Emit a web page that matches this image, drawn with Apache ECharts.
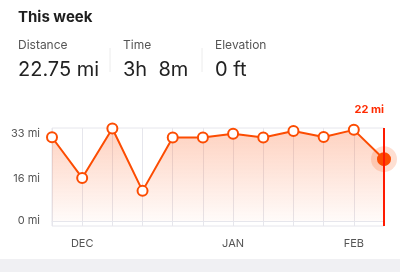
<!DOCTYPE html>
<html><head><meta charset="utf-8">
<script src="https://cdn.jsdelivr.net/npm/echarts@6/dist/echarts.min.js"></script>
<style>html,body{margin:0;padding:0;background:#fff}#c{width:400px;height:272px}</style>
</head><body><div id="c"></div>
<script>
const categories = ['w1','w2','w3','w4','w5','w6','w7','w8','w9','w10','w11','w12'];
const monthLabels = ['', 'DEC', '', '', '', '', 'JAN', '', '', '', 'FEB', ''];
const weeklyMiles = [31.7, 16.3, 35.0, 11.4, 31.6, 31.6, 33.0, 31.6, 34.1, 31.8, 34.5, 23.4];
const yTickValues = [0, 16, 33];
const yTickLabels = ['0 mi', '16 mi', '33 mi'];
const currentLabel = '22 mi';
const statTitles = ['Distance', 'Time', 'Elevation'];
const statValues = ['22.75 mi', '3h  8m', '0 ft'];
const heading = 'This week';

const ORANGE = '#fc4c02';
const font = 'Inter, "Noto Sans", sans-serif';
const chart = echarts.init(document.getElementById('c'), null, {renderer: 'canvas'});
const lastIdx = weeklyMiles.length - 1;

const statX = [18, 123, 215];
const graphics = [
  {type:'text', left:18, top:10, style:{text:heading, font:'bold 15px ' + font, fill:'#1e1e1e'}},
  {type:'rect', left:0, top:259, shape:{width:400, height:13}, style:{fill:'#f0f0f3'}},
  {type:'line', shape:{x1:110, y1:48, x2:110, y2:72}, style:{stroke:'#ececec', lineWidth:1}},
  {type:'line', shape:{x1:202, y1:48, x2:202, y2:72}, style:{stroke:'#ececec', lineWidth:1}},
  {type:'text', right:16, top:104, style:{text:currentLabel, font:'bold 11px ' + font, fill:'#ff2a00', align:'right'}}
];
statTitles.forEach((t,i)=>{
  graphics.push({type:'text', left:statX[i], top:39, style:{text:t, font:'12px ' + font, fill:'#555'}});
  graphics.push({type:'text', left:statX[i], top:60, style:{text:statValues[i], font:'20px ' + font, fill:'#222'}});
});

chart.setOption({
  animation:false,
  grid:{left:52, right:16, top:128, bottom:46, show:true, borderColor:'#e6e6ec', borderWidth:1},
  xAxis:{
    type:'category', data:categories, boundaryGap:false,
    axisLine:{show:true, lineStyle:{color:'#e6e6ec'}}, axisTick:{show:false},
    axisLabel:{interval:0, margin:12, color:'#555', fontSize:11, fontFamily:font,
      formatter:(v,i)=>monthLabels[i]},
    splitLine:{show:true, lineStyle:{color:'#e6e6ec', width:1}}
  },
  yAxis:{
    type:'value', min:-1.9, max:35.2,
    axisLine:{show:false}, axisTick:{show:false}, splitLine:{show:false},
    axisLabel:{customValues:yTickValues, color:'#555', fontSize:11, fontFamily:font, margin:12,
      formatter:(v)=>yTickLabels[yTickValues.indexOf(v)]}
  },
  series:[
    {
      type:'line', data:weeklyMiles.map((v,i)=> i===lastIdx ? {value:v, symbolSize:12, itemStyle:{color:ORANGE, borderColor:ORANGE}} : v),
      symbol:'circle', symbolSize:10, showAllSymbol:true,
      lineStyle:{color:ORANGE, width:2},
      itemStyle:{color:'#fff', borderColor:ORANGE, borderWidth:2},
      areaStyle:{color:new echarts.graphic.LinearGradient(0,0,0,1,[
        {offset:0, color:'rgba(252,100,40,0.42)'},
        {offset:1, color:'rgba(252,100,40,0.04)'}])},
      z:3,
      markLine:{silent:true, symbol:'none', label:{show:false},
        lineStyle:{color:'#ff1a00', width:2, type:'solid'},
        data:[{xAxis:lastIdx}]}
    },
    {
      type:'scatter', data:[[lastIdx, weeklyMiles[lastIdx]]], symbolSize:26,
      itemStyle:{color:'rgba(252,76,2,0.22)'}, z:2, silent:true
    }
  ],
  graphic:graphics
});
</script></body></html>
